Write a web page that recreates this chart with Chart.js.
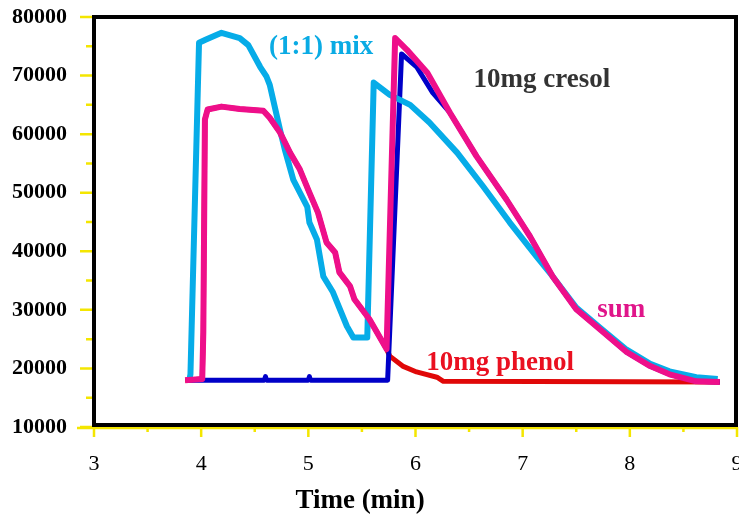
<!DOCTYPE html>
<html>
<head>
<meta charset="utf-8">
<script src="https://cdn.jsdelivr.net/npm/chart.js@4.4.1/dist/chart.umd.min.js"></script>
<style>
  html, body { margin: 0; padding: 0; background: #fff; }
  #wrap { width: 739px; height: 518px; }
</style>
</head>
<body>
<div id="wrap"><canvas id="trace"></canvas></div>
<script>
// retention time (min) and detector signal for each run
var timeMix   = [3.89, 3.90, 3.98, 4.04, 4.19, 4.36, 4.44, 4.55, 4.61, 4.64, 4.735, 4.78, 4.86, 4.99, 5.01, 5.08, 5.14, 5.23, 5.36, 5.42, 5.55, 5.61, 5.76, 5.95, 6.13, 6.39, 6.63, 6.88, 7.13, 7.28, 7.5, 7.72, 7.97, 8.19, 8.37, 8.62, 8.82];
var signalMix = [18000, 19000, 75600, 76100, 77300, 76400, 75200, 71500, 69800, 68400, 60800, 57400, 52200, 47600, 44900, 42000, 35700, 33000, 27200, 25300, 25300, 68800, 66700, 65000, 62000, 56800, 51100, 44900, 39100, 35700, 30400, 27000, 23200, 20800, 19500, 18500, 18200];

var timeSum   = [3.85, 4.01, 4.02, 4.035, 4.06, 4.19, 4.36, 4.58, 4.64, 4.735, 4.83, 4.92, 5.01, 5.09, 5.17, 5.25, 5.29, 5.39, 5.43, 5.57, 5.73, 5.81, 5.92, 6.11, 6.32, 6.57, 6.85, 7.07, 7.28, 7.5, 7.72, 7.97, 8.19, 8.37, 8.62, 8.84];
var signalSum = [18000, 18200, 26200, 62500, 64200, 64700, 64300, 64000, 62800, 60300, 56800, 54000, 50000, 46600, 41500, 39800, 36400, 34000, 31800, 28400, 23300, 76400, 74400, 70500, 63700, 56200, 48800, 42500, 35700, 30100, 26700, 22800, 20400, 19000, 17800, 17700];

var timeCresol   = [3.88, 4.59, 4.6, 4.61, 5.0, 5.01, 5.02, 5.74, 5.87, 6.01, 6.16, 6.32, 6.57, 6.85, 7.07, 7.28, 7.5, 7.72, 7.97, 8.19, 8.37, 8.62, 8.84];
var signalCresol = [18000, 18000, 18600, 18000, 18000, 18600, 18000, 18000, 73700, 71500, 67100, 63700, 56200, 48800, 42500, 35700, 30100, 26700, 22800, 20400, 19000, 17800, 17700];

var timePhenol   = [3.85, 4.01, 4.02, 4.035, 4.06, 4.19, 4.36, 4.58, 4.64, 4.735, 4.83, 4.92, 5.01, 5.09, 5.17, 5.25, 5.29, 5.39, 5.43, 5.57, 5.73, 5.76, 5.88, 6.01, 6.2, 6.26, 8.84];
var signalPhenol = [18000, 18200, 26200, 62500, 64200, 64700, 64300, 64000, 62800, 60300, 56800, 54000, 50000, 46600, 41500, 39800, 36400, 34000, 31800, 28400, 23300, 22100, 20400, 19400, 18500, 17800, 17700];

var xTicks = [3, 4, 5, 6, 7, 8, 9];
var yTicks = [10000, 20000, 30000, 40000, 50000, 60000, 70000, 80000];

// label text, anchor (time, signal) and colour
var curveLabels = [
  { text: "(1:1) mix",   x: 5.12, y: 74900, color: "#0aabe4" },
  { text: "10mg cresol", x: 7.18, y: 69300, color: "#333333" },
  { text: "sum",         x: 7.92, y: 30000, color: "#e0158a" },
  { text: "10mg phenol", x: 6.79, y: 21000, color: "#ea1020" }
];
var xTitle = "Time (min)";

function toPoints(xs, ys) {
  return xs.map(function (t, i) { return { x: t, y: ys[i] }; });
}

var YELLOW = "#f4e600";

// yellow axis lines + ticks, black frame, curve labels, axis title
var decor = {
  id: "decor",
  beforeDatasetsDraw: function (chart) {
    var ctx = chart.ctx, a = chart.chartArea;
    var xs = chart.scales.x, ys = chart.scales.y;
    ctx.save();
    ctx.strokeStyle = YELLOW;
    ctx.lineWidth = 2.5;
    ctx.beginPath();
    ctx.moveTo(a.left - 17, a.bottom + 1);
    ctx.lineTo(a.right, a.bottom + 1);
    ctx.moveTo(a.left, a.top);
    ctx.lineTo(a.left, a.bottom + 10);
    for (var v = 10000; v <= 80000; v += 5000) {
      var py = ys.getPixelForValue(v);
      var len = (v % 10000 === 0) ? 14 : 8;
      ctx.moveTo(a.left - len, py);
      ctx.lineTo(a.left, py);
    }
    for (var t = 3; t <= 9; t += 0.5) {
      var px = xs.getPixelForValue(t);
      var tl = (t % 1 === 0) ? 10 : 5;
      ctx.moveTo(px, a.bottom);
      ctx.lineTo(px, a.bottom + tl);
    }
    ctx.stroke();
    ctx.restore();
  },
  afterDatasetsDraw: function (chart) {
    var ctx = chart.ctx, a = chart.chartArea;
    var xs = chart.scales.x, ys = chart.scales.y;
    ctx.save();
    ctx.strokeStyle = "#000";
    ctx.lineWidth = 4;
    ctx.strokeRect(a.left, a.top, a.right - a.left - 1, a.bottom - a.top - 2);
    ctx.font = "bold 27px 'Liberation Serif'";
    ctx.textAlign = "center";
    ctx.textBaseline = "middle";
    curveLabels.forEach(function (l) {
      ctx.fillStyle = l.color;
      ctx.fillText(l.text, xs.getPixelForValue(l.x), ys.getPixelForValue(l.y));
    });
    // axis title sits left of the plot centre
    ctx.fillStyle = "#000";
    ctx.fillText(xTitle, 360, 501);
    ctx.restore();
  }
};

function lineSet(label, pts, color, width) {
  return {
    label: label,
    data: pts,
    borderColor: color,
    backgroundColor: color,
    borderWidth: width,
    pointRadius: 0,
    tension: 0,
    fill: false,
    borderJoinStyle: "round",
    borderCapStyle: "butt"
  };
}

var chart = new Chart(document.getElementById("trace"), {
  type: "line",
  data: {
    // first dataset ends up on top
    datasets: [
      lineSet("sum", toPoints(timeSum, signalSum), "#ee0f8a", 6),
      lineSet("(1:1) mix", toPoints(timeMix, signalMix), "#06ace8", 6),
      lineSet("10mg cresol", toPoints(timeCresol, signalCresol), "#0000c8", 5),
      lineSet("10mg phenol", toPoints(timePhenol, signalPhenol), "#e00808", 5)
    ]
  },
  options: {
    responsive: true,
    maintainAspectRatio: false,
    animation: false,
    layout: { autoPadding: false, padding: { top: 17, right: 2, left: 0, bottom: 0 } },
    plugins: {
      legend: { display: false },
      tooltip: { enabled: false }
    },
    scales: {
      x: {
        type: "linear",
        min: 3, max: 9,
        afterBuildTicks: function (s) { s.ticks = xTicks.map(function (v) { return { value: v }; }); },
        afterFit: function (s) { s.height = 91; s.paddingLeft = 0; s.paddingRight = 0; },
        grid: { display: false, drawTicks: false },
        border: { display: false },
        ticks: {
          color: "#000",
          padding: 24,
          maxRotation: 0,
          font: { family: "'Liberation Serif'", size: 22 }
        }
      },
      y: {
        min: 10000, max: 80000,
        afterBuildTicks: function (s) { s.ticks = yTicks.map(function (v) { return { value: v }; }); },
        afterFit: function (s) { s.width = 94; s.paddingTop = 0; s.paddingBottom = 0; },
        grid: { display: false, drawTicks: false },
        border: { display: false },
        ticks: {
          color: "#000",
          padding: 27,
          callback: function (v) { return String(v); },
          font: { family: "'Liberation Serif'", size: 22, weight: "bold" }
        }
      }
    }
  },
  plugins: [decor]
});
</script>
</body>
</html>
